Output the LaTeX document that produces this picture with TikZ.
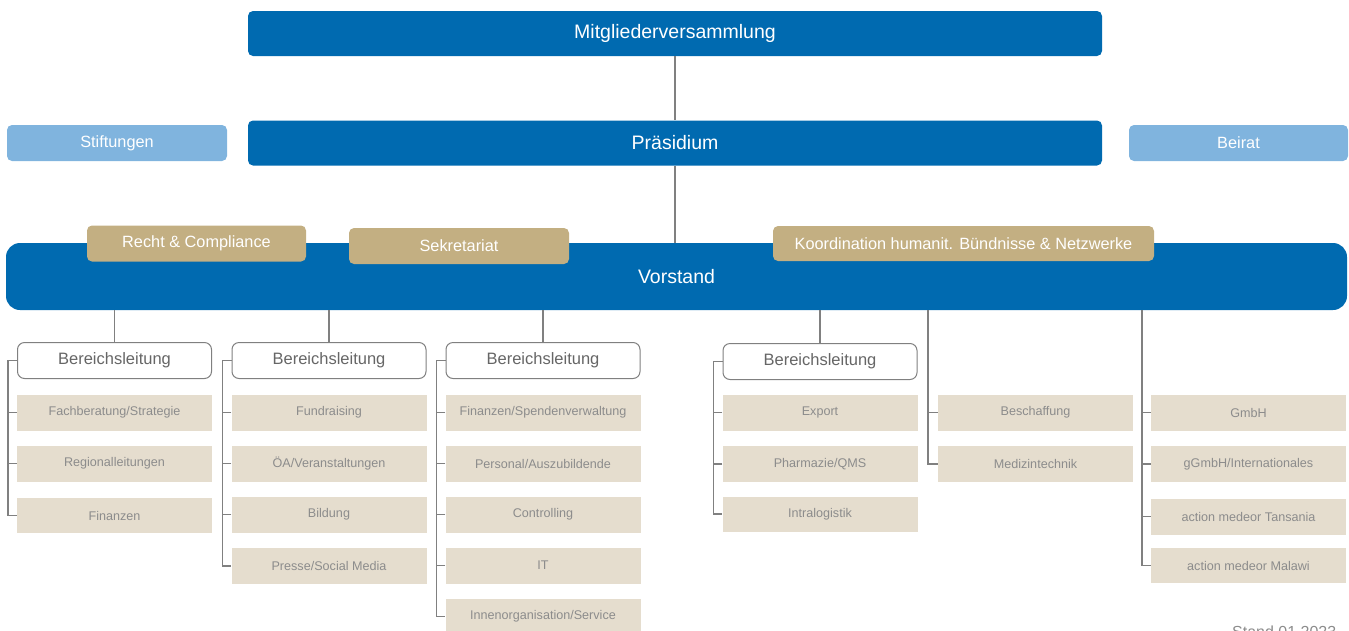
\documentclass[tikz,border=0pt]{standalone}
\usepackage{fontspec}
\setmainfont{Liberation Sans}
\usepackage{tikz}
\usetikzlibrary{positioning}

\definecolor{amblue}{RGB}{0,106,176}
\definecolor{amlight}{RGB}{128,180,222}
\definecolor{amtan}{RGB}{195,175,130}
\definecolor{ambeige}{RGB}{229,221,206}
\definecolor{amline}{RGB}{128,128,128}
\definecolor{amtext}{RGB}{140,140,140}

\begin{document}
\begin{tikzpicture}[x=1pt,y=-1pt]
			\tikzset{topbox/.style = {shape=rectangle,fill=amblue,text=white,rounded corners=5pt,minimum width=854pt,minimum height=45pt,inner sep=0pt,font=\fontsize{19.5}{22}\selectfont}}
			\tikzset{sidebox/.style = {shape=rectangle,fill=amlight,text=white,rounded corners=5pt,minimum width=220pt,minimum height=36pt,inner sep=0pt,font=\fontsize{16.3}{19}\selectfont}}
			\tikzset{stabbox/.style = {shape=rectangle,fill=amtan,text=white,rounded corners=5pt,minimum height=36pt,inner sep=0pt,font=\fontsize{16.3}{19}\selectfont}}
			\tikzset{leitbox/.style = {shape=rectangle,draw=amline,fill=white,text=black!60,line width=1pt,rounded corners=7pt,minimum width=194pt,minimum height=36pt,inner sep=0pt,font=\fontsize{16.5}{19}\selectfont}}
			\tikzset{itembox/.style = {shape=rectangle,fill=ambeige,text=amtext,minimum width=195pt,minimum height=36pt,inner sep=0pt,font=\fontsize{12.6}{15}\selectfont}}
			\tikzset{edge/.style = {draw=amline,line width=1.2pt}}
			\useasboundingbox (0,0) rectangle (1349,630);
			\clip (0,0) rectangle (1349,630);
			% top
			\node[topbox] (mv) at (675, 33.5) {Mitgliederversammlung};
			\node[topbox] (pr) at (675, 143) {Präsidium};
			\node[sidebox] (stift) at (117, 143) {Stiftungen};
			\node[sidebox, minimum width=219pt] (beirat) at (1238.5, 143) {Beirat};
			\node[shape=rectangle,fill=amblue,text=white,rounded corners=14pt,minimum width=1341pt,minimum height=67pt,inner sep=0pt,font=\fontsize{19.5}{22}\selectfont] (vorstand) at (676.5, 276.5) {Vorstand};
			\node[stabbox, minimum width=219pt] (recht) at (196.5, 243.5) {Recht \& Compliance};
			\node[stabbox, minimum width=220pt] (sekr) at (459, 246) {Sekretariat};
			\node[stabbox, minimum width=381pt, minimum height=35pt] (koord) at (963.5, 243.5) {Koordination humanit. Bündnisse \& Netzwerke};
			% Bereichsleitungen
			\node[leitbox] (bl1) at (114.5, 360.5) {Bereichsleitung};
			\node[leitbox] (bl2) at (329, 360.5) {Bereichsleitung};
			\node[leitbox] (bl3) at (543, 360.5) {Bereichsleitung};
			\node[leitbox] (bl4) at (820, 361.5) {Bereichsleitung};
			% items
			\node[itembox] (fach) at (114.5, 412.5) {Fachberatung/Strategie};
			\node[itembox] (regio) at (114.5, 463.5) {Regionalleitungen};
			\node[itembox, minimum height=35pt] (fin) at (114.5, 515.5) {Finanzen};
			\node[itembox] (fund) at (329, 412.5) {Fundraising};
			\node[itembox] (oea) at (329, 463.5) {ÖA/Veranstaltungen};
			\node[itembox] (bild) at (329, 514.5) {Bildung};
			\node[itembox] (presse) at (329, 566) {Presse/Social Media};
			\node[itembox] (spend) at (543, 412.5) {Finanzen/Spendenverwaltung};
			\node[itembox] (pers) at (543, 463.5) {Personal/Auszubildende};
			\node[itembox] (contr) at (543, 514.5) {Controlling};
			\node[itembox] (it) at (543, 565.5) {IT};
			\node[itembox] (innen) at (543, 616.5) {Innenorganisation/Service};
			\node[itembox] (export) at (820, 412.5) {Export};
			\node[itembox] (pharma) at (820, 464) {Pharmazie/QMS};
			\node[itembox, minimum height=35pt] (intra) at (820, 514) {Intralogistik};
			\node[itembox] (besch) at (1035.5, 412.5) {Beschaffung};
			\node[itembox] (med) at (1035.5, 464) {Medizintechnik};
			\node[itembox] (gmbh) at (1248.5, 412.5) {GmbH};
			\node[itembox] (ggmbh) at (1248.5, 464) {gGmbH/Internationales};
			\node[itembox] (tans) at (1248.5, 516.5) {action medeor Tansania};
			\node[itembox, minimum height=35pt] (malawi) at (1248.5, 565.5) {action medeor Malawi};
			\node[text=amtext, anchor=base west, inner sep=0pt, font=\fontsize{16}{19}\selectfont] (stand) at (1232, 637) {Stand 01.2023};
			% edges
			\coordinate (c5) at (928, 310);
			\coordinate (c6) at (1142, 310);
			\draw[edge] (mv.south) -- (pr.north);
			\draw[edge] (pr.south) -- (pr.south |- vorstand.north);
			\foreach \b in {bl1, bl2, bl3, bl4}
				\draw[edge] (vorstand.south -| \b.north) -- (\b.north);
			\draw[edge] (bl1.west) -- ++(-9,0) |- (fin.west);
			\draw[edge] (bl2.west) -- ++(-9,0) |- (presse.west);
			\draw[edge] (bl3.west) -- ++(-9,0) |- (innen.west);
			\draw[edge] (bl4.west) -- ++(-9,0) |- (intra.west);
			\foreach \i in {fach, regio, fund, oea, bild, spend, pers, contr, it, export, pharma}
				\draw[edge] (\i.west) -- ++(-9,0);
			\draw[edge] (c5) |- (med.west);
			\draw[edge] (besch.west) -- (besch.west -| c5);
			\draw[edge] (c6) |- (malawi.west);
			\foreach \i in {gmbh, ggmbh, tans}
				\draw[edge] (\i.west) -- (\i.west -| c6);
		\end{tikzpicture}
\end{document}
